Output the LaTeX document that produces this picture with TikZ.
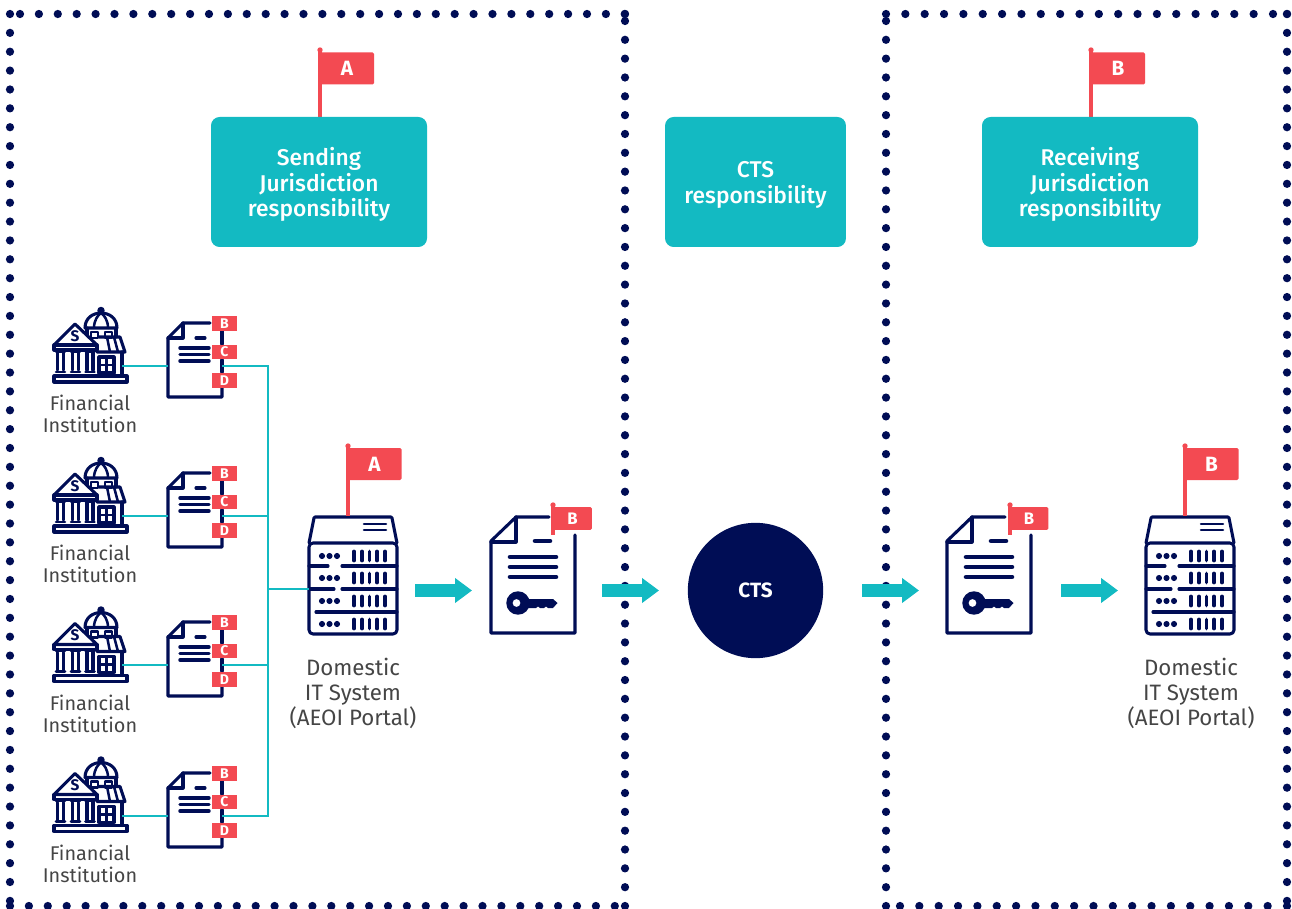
\documentclass[tikz,border=0pt]{standalone}
\usepackage{fontspec}
\setmainfont{Fira Sans}[BoldFont={Fira Sans Medium}]
\newfontfamily\flagf{Fira Sans}[UprightFont={Fira Sans Bold}]
\usetikzlibrary{arrows.meta}
\definecolor{navy}{HTML}{000D55}
\definecolor{teal2}{HTML}{13BAC2}
\definecolor{redf}{HTML}{F34A52}
\definecolor{txt}{HTML}{454545}
\tikzset{
 dotc/.style={fill=navy,draw=none},
 ico/.style={draw=navy,line width=2.3pt,line cap=round,line join=round},
 icoth/.style={draw=navy,line width=1.9pt,line cap=round,line join=round},
 link/.style={draw=teal2,line width=2.2pt},
 bigarrow/.style={draw=teal2,line width=9.4pt,-{Triangle[length=12.75pt,width=18pt,fill=teal2]}},
 respbox/.style={fill=teal2,draw=none,rounded corners=6.5pt,text=white,align=center,font=\bfseries\fontsize{17.1}{19.1}\selectfont,inner sep=0pt},
 flagbig/.style={fill=redf,draw=none,rounded corners=1pt,text=white,font=\flagf\fontsize{15.5}{17}\selectfont,minimum width=40.5pt,minimum height=24pt,inner sep=0pt},
 flagmid/.style={fill=redf,draw=none,rounded corners=1pt,text=white,font=\flagf\fontsize{12.5}{14}\selectfont,minimum width=29pt,minimum height=17pt,inner sep=0pt},
 flagsmall/.style={fill=redf,draw=none,text=white,font=\flagf\fontsize{10.5}{11}\selectfont,minimum width=18.6pt,minimum height=11pt,inner sep=0pt},
 pole/.style={draw=redf,line width=2.6pt},
 caption/.style={text=txt,align=center,font=\fontsize{14.9}{16.6}\selectfont,inner sep=0pt},
 captionbig/.style={text=txt,align=center,font=\fontsize{16.7}{18.9}\selectfont,inner sep=0pt},
 ctsnode/.style={circle,fill=navy,draw=none,text=white,font=\flagf\fontsize{15.5}{17}\selectfont,minimum size=101.5pt,inner sep=0pt},
}
\newcommand{\flagpole}[4]{% x, knob y, bottom y, name
  \coordinate (#4top) at (#1,#2); \coordinate (#4bot) at (#1,#3);
  \draw[pole] (#4top) -- (#4bot);
  \fill[redf] (#4top) circle[radius=2pt];}
\newcommand{\bank}[2]{%
\begin{scope}[shift={(0,#2)}]
  \draw[ico] (85,328) .. controls (85,318) and (93,313) .. (101,313) .. controls (109,313) and (117,318) .. (117,328) -- cycle;
  \draw[icoth] (94,328) .. controls (94,320) and (98,315) .. (101,313) .. controls (104,315) and (108,320) .. (108,328);
  \fill[navy] (101,310.5) circle[radius=2.8pt];
  \draw[ico] (87,328) -- (87,336);
  \draw[ico] (116,328) -- (116,337);
  \draw[icoth] (91,332) rectangle (98,338);
  \draw[icoth] (105,332) rectangle (112,338);
  \draw[ico] (99,337) -- (120,337) -- (125,352) -- (97,352);
  \draw[icoth] (107,337) -- (110,352) (114,337) -- (118,352);
  \draw[ico] (122,352) -- (122,376);
  \draw[ico] (99,357) rectangle (114,373);
  \draw[icoth] (106.5,357) -- (106.5,373) (99,365) -- (114,365);
  \draw[ico,fill=white] (54,345) -- (75,324) -- (97,345) -- cycle;
  \draw[ico] (54,345) rectangle (97,350);
  \node[text=navy,font=\flagf\fontsize{11.5}{12}\selectfont,inner sep=0pt] (bankS#1) at (75,336) {S};
  \foreach \cx in {60.5,75.5,90}{
    \draw[icoth] (\cx-4.5,351.5) -- (\cx+4.5,351.5);
    \draw[ico] (\cx-3,353) -- (\cx-3,370) (\cx+3,353) -- (\cx+3,370);
    \draw[icoth] (\cx-4.5,372) -- (\cx+4.5,372);
  }
  \draw[ico] (56,376) -- (122,376);
  \draw[ico] (54,376) rectangle (127,382);
  \coordinate (bank#1) at (122,366);
\end{scope}}
\newcommand{\smalldoc}[2]{%
\begin{scope}[shift={(0,#2)}]
  \draw[ico] (210,323) -- (183,323) -- (168,338) -- (168,397) -- (222,397) -- (222,388);
  \draw[ico] (183,323) -- (183,338) -- (168,338);
  \draw[ico] (222,331) -- (222,344) (222,360) -- (222,372);
  \draw[ico] (196,338) -- (205,338);
  \draw[ico,line width=2.6pt] (180,348) -- (209,348) (180,354.5) -- (209,354.5) (180,361) -- (209,361);
  \node[flagsmall] (fb#1) at (224.5,323.5) {B};
  \node[flagsmall] (fc#1) at (224.5,352) {C};
  \node[flagsmall] (fd#1) at (224.5,380.5) {D};
  \coordinate (docl#1) at (168,366);
  \coordinate (docr#1) at (222,366);
\end{scope}}
\newcommand{\server}[2]{%
\begin{scope}[shift={(#2,0)}]
  \draw[ico] (309,543) -- (314,518) -- (315,517) -- (391,517) -- (392,518) -- (397,543);
  \draw[ico,rounded corners=3pt] (309,543) rectangle (397,634);
  \draw[icoth] (364,524) -- (386,524) (364,530) -- (386,530);
  \draw[ico] (309,566) -- (328,566) (342,566) -- (397,566);
  \draw[ico] (309,589) -- (334,589) (342,589) -- (397,589);
  \draw[ico] (316,612) -- (397,612);
  \foreach \ry in {556,578,601,624}{
    \foreach \dx in {322,329.5,337}{\fill[navy] (\dx,\ry) circle[radius=2.3pt];}
    \foreach \bx in {354,362,369.5,377,385}{\draw[ico,line width=2.8pt] (\bx,\ry-4.5) -- (\bx,\ry+4.5);}
  }
  \coordinate (srv#1) at (309,589);
\end{scope}}
\newcommand{\keydoc}[2]{%
\begin{scope}[shift={(#2,0)}]
  \draw[ico] (549,517) -- (516,517) -- (491,541) -- (491,633) -- (575,633) -- (575,535);
  \draw[ico] (516,517) -- (516,542) -- (491,542);
  \draw[line width=3.4pt,draw=navy,line cap=round] (535,541) -- (550,541);
  \draw[line width=3.4pt,draw=navy,line cap=round] (510,557) -- (556,557) (510,567) -- (556,567) (510,577) -- (556,577);
  \fill[navy,even odd rule] (518,603) circle[radius=8.8pt] (516.5,603) circle[radius=3pt];
  \fill[navy] (526,599) -- (553,599) -- (557.5,603) -- (553,608) -- (548,608) -- (546,606.5) -- (544,608) -- (540,608) -- (538,606.5) -- (536,608) -- (526,608) -- cycle;
  \coordinate (kd#1) at (491,590);
\end{scope}}
\begin{document}
\begin{tikzpicture}[x=0.75pt,y=-0.75pt]
\useasboundingbox (0,0) rectangle (1292,909);
% dotted frames
\foreach \k in {0,...,32}{\fill[dotc] (20+18.9*\k,14) circle[radius=3.1pt];\fill[dotc] (10+18.9*\k,906) circle[radius=3.1pt];}
\foreach \k in {0,...,47}{\fill[dotc] (10,14+18.87*\k) circle[radius=3.1pt];\fill[dotc] (1287,14+18.87*\k) circle[radius=3.1pt];}
\foreach \k in {0,...,47}{\fill[dotc] (625,906-18.83*\k) circle[radius=3.1pt];\fill[dotc] (886,906-18.83*\k) circle[radius=3.1pt];}
\fill[dotc] (625,14) circle[radius=3.1pt]; \fill[dotc] (886,14) circle[radius=3.1pt];
\foreach \k in {1,...,20}{\fill[dotc] (886+19.35*\k,14) circle[radius=3.1pt];}
\fill[dotc] (1287,14) circle[radius=3.1pt];
\foreach \k in {0,...,20}{\fill[dotc] (1287-19.35*\k,906) circle[radius=3.1pt];}
% responsibility boxes
\flagpole{320}{50}{118}{pa}
\flagpole{1091}{50}{118}{pb}
\node[flagbig] (fa) at (347,68.5) {A};
\node[flagbig] (fbb) at (1118,68.5) {B};
\node[respbox,minimum width=162pt,minimum height=97.5pt] (send) at (319,182) {};
\node[respbox,minimum width=135.7pt,minimum height=97.5pt] (ctsr) at (755.5,182) {};
\node[respbox,minimum width=162pt,minimum height=97.5pt] (recv) at (1090,182) {};
\node[respbox,fill=none] (sendt) at (319,184.5) {Sending\\Jurisdiction\\responsibility};
\node[respbox,fill=none] (ctst) at (755.5,185) {CTS\\responsibility};
\node[respbox,fill=none] (recvt) at (1090,184.5) {Receiving\\Jurisdiction\\responsibility};
% captions
\foreach \n/\yy in {1/414,2/564,3/713.5,4/863.5}{\node[caption] (fi\n) at (90,\yy) {Financial\\Institution};}
% connectors
\coordinate (busT) at (268,366);
\coordinate (busB) at (268,816);
\coordinate (busM) at (268,589);
\bank{1}{0}\bank{2}{150}\bank{3}{299.5}\bank{4}{449.5}
\smalldoc{1}{0}\smalldoc{2}{150}\smalldoc{3}{299}\smalldoc{4}{450}
\server{1}{0}
\server{2}{837}
\foreach \n in {1,2,3,4}{\draw[link] (docl\n) -- (docl\n -| bank\n);}
\draw[link] (docr1) -- (busT) -- (busB) -- (docr4);
\draw[link] (docr2) -- (docr2 -| busT);
\draw[link] (docr3) -- (docr3 -| busT);
\draw[link] (busM) -- (srv1);
% flags on servers
\flagpole{348}{446}{516}{ps}
\node[flagbig] (fsa) at (374.5,464) {A};
\flagpole{1185}{446}{516}{pr}
\node[flagbig] (fsb) at (1211.5,464) {B};
\node[captionbig] (dom1t) at (353,693.5) {Domestic\\IT System\\(AEOI Portal)};
\node[captionbig] (dom2t) at (1191,693.5) {Domestic\\IT System\\(AEOI Portal)};
% key documents
\keydoc{1}{0}
\keydoc{2}{456}
\flagpole{553}{505}{535}{pk}
\node[flagmid] (fk1) at (572.5,518.5) {B};
\flagpole{1010}{505}{535}{pl}
\node[flagmid] (fk2) at (1029,518.5) {B};
% CTS
\node[ctsnode] (cts) at (755.5,590.5) {CTS};
% big arrows
\coordinate (a1s) at (415,590.5);\coordinate (a1e) at (472,590.5);
\coordinate (a2s) at (602,590.5);\coordinate (a2e) at (659,590.5);
\coordinate (a3s) at (862,590.5);\coordinate (a3e) at (919,590.5);
\coordinate (a4s) at (1061,590.5);\coordinate (a4e) at (1118,590.5);
\draw[bigarrow] (a1s) -- (a1e);
\draw[bigarrow] (a2s) -- (a2e);
\draw[bigarrow] (a3s) -- (a3e);
\draw[bigarrow] (a4s) -- (a4e);
\end{tikzpicture}
\end{document}
